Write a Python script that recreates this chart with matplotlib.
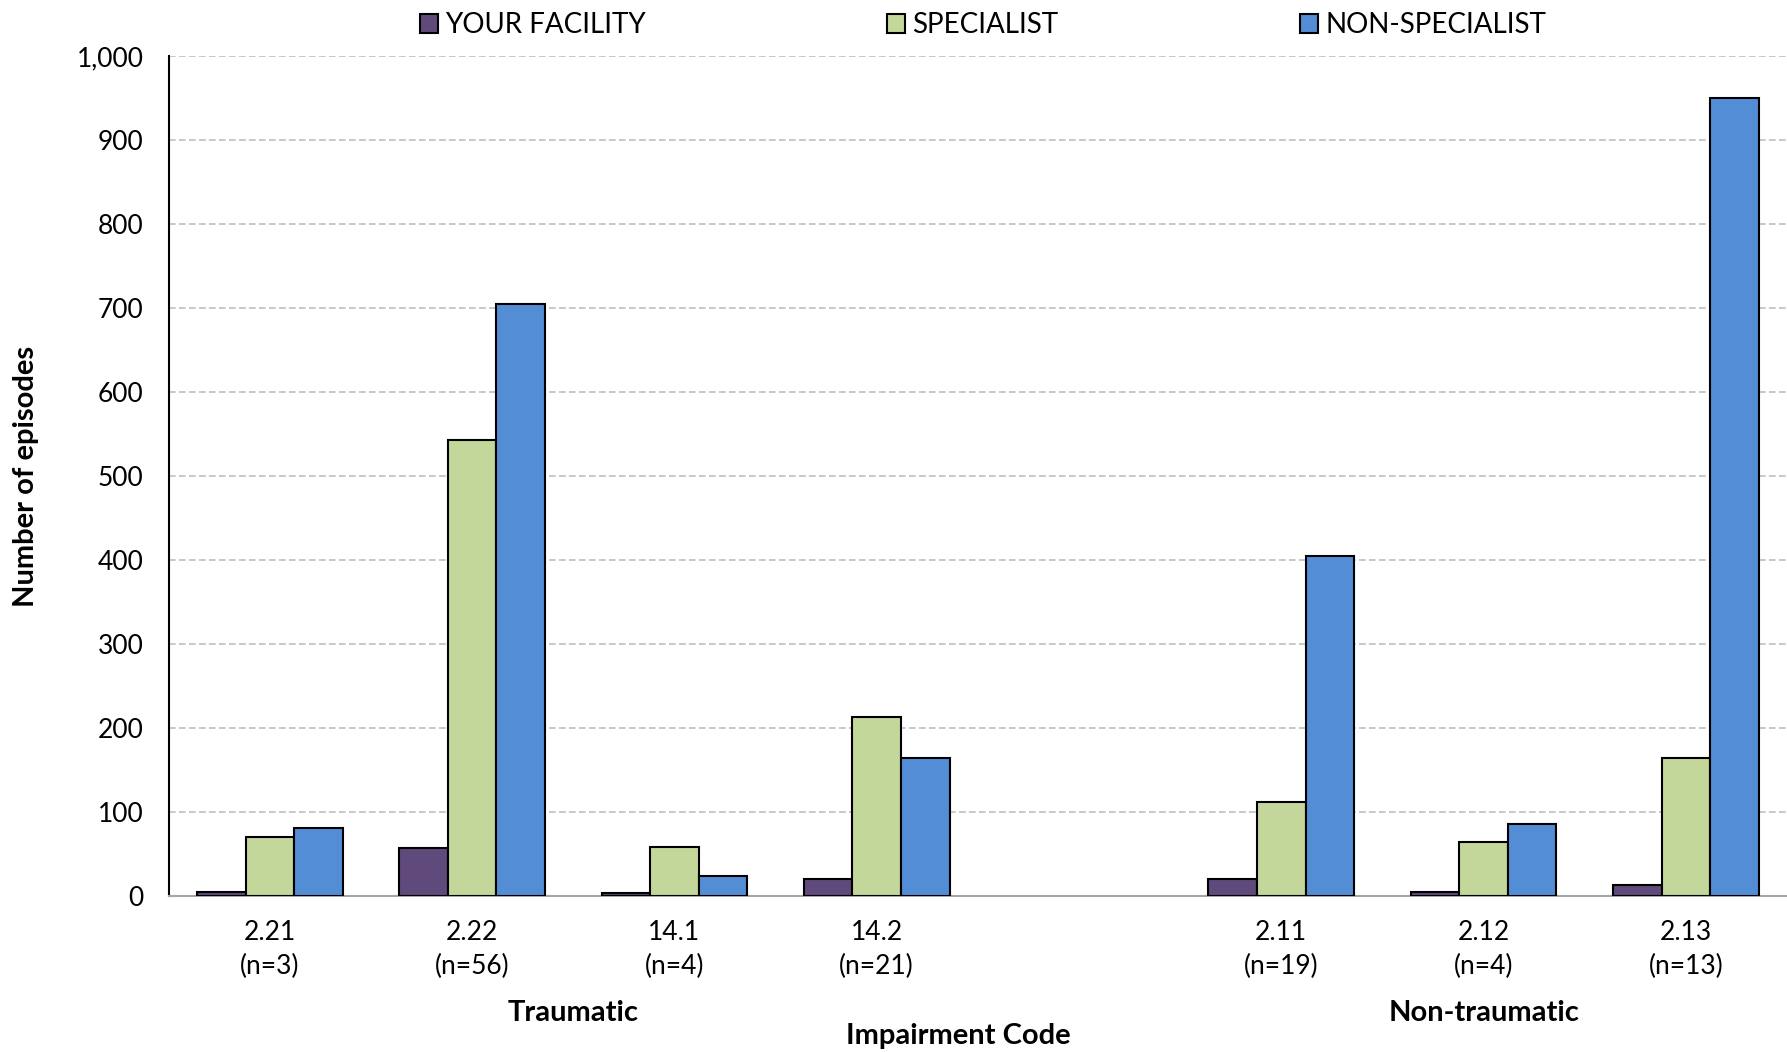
import matplotlib
matplotlib.use("Agg")
import matplotlib.pyplot as plt
import matplotlib.transforms as mtransforms
import numpy as np
from matplotlib.patches import Patch
from matplotlib.ticker import FuncFormatter

plt.rcParams['font.family'] = ['Lato', 'DejaVu Sans']

series_names = ["YOUR FACILITY", "SPECIALIST", "NON-SPECIALIST"]
colors = ["#604A7B", "#C4D79B", "#538DD5"]

group_names = ["Traumatic", "Non-traumatic"]
traumatic_codes = ["2.21", "2.22", "14.1", "14.2"]
traumatic_n = [3, 56, 4, 21]
nontraumatic_codes = ["2.11", "2.12", "2.13"]
nontraumatic_n = [19, 4, 13]

your_facility = [5, 57, 4, 21, 20, 5, 14]
specialist = [71, 543, 59, 213, 112, 65, 165]
non_specialist = [81, 705, 24, 165, 405, 86, 950]

yticks = [0, 100, 200, 300, 400, 500, 600, 700, 800, 900, 1000]

codes = traumatic_codes + nontraumatic_codes
ns = traumatic_n + nontraumatic_n
# positions: one empty slot between the two groups
pos_t = list(range(len(traumatic_codes)))
pos_n = [len(traumatic_codes) + 1 + i for i in range(len(nontraumatic_codes))]
positions = np.array(pos_t + pos_n, dtype=float)

fig = plt.figure(figsize=(17.87, 10.52), dpi=100)
ax = fig.add_axes([0.0944, 0.148, 0.9056, 0.7988])

w = 0.24
data = [your_facility, specialist, non_specialist]
for i, (vals, c, name) in enumerate(zip(data, colors, series_names)):
    ax.bar(positions + (i - 1) * w, vals, width=w, color=c, edgecolor="black",
           linewidth=1.5, label=name, zorder=3)

ax.set_xlim(-0.5, positions[-1] + 0.5)
ax.set_ylim(0, 1000)
ax.set_yticks(yticks)
ax.yaxis.set_major_formatter(FuncFormatter(lambda v, p: f"{int(v):,}"))
ax.set_xticks(positions)
ax.set_xticklabels([f"{c}\n(n={n})" for c, n in zip(codes, ns)], linespacing=1.45)
ax.tick_params(axis="both", length=0, labelsize=19, colors="black")
ax.tick_params(axis="y", pad=18)
ax.tick_params(axis="x", pad=17)

ax.grid(axis="y", linestyle=(0, (4, 2)), color="#bfbfbf", linewidth=1.2, zorder=0)
ax.spines["top"].set_visible(False)
ax.spines["right"].set_visible(False)
ax.spines["left"].set_color("black")
ax.spines["left"].set_linewidth(1.5)
ax.spines["bottom"].set_color("#a6a6a6")
ax.spines["bottom"].set_linewidth(1.5)

ax.set_ylabel("Number of episodes", fontsize=21, fontweight="bold")
ax.yaxis.set_label_coords(-0.080, 0.5)

# group labels
gx_t = np.mean(positions[:len(traumatic_codes)])
gx_n = np.mean(positions[len(traumatic_codes):])
trans = mtransforms.blended_transform_factory(ax.transData, fig.transFigure)
for gx, gname in zip([gx_t, gx_n], group_names):
    ax.text(gx, 0.037, gname, transform=trans, ha="center", va="center",
            fontsize=21, fontweight="bold")

fig.text(0.536, 0.015, "Impairment Code", ha="center", va="center", fontsize=21, fontweight="bold")

handles = [Patch(facecolor=c, edgecolor="black", linewidth=1.5) for c in colors]
fig.legend(handles, series_names, loc="center", bbox_to_anchor=(0.550, 0.976), ncol=3,
           frameon=False, fontsize=20, handlelength=0.65, handleheight=0.65,
           handletextpad=0.25, columnspacing=8.7)

fig.savefig("out.png", dpi=100)
